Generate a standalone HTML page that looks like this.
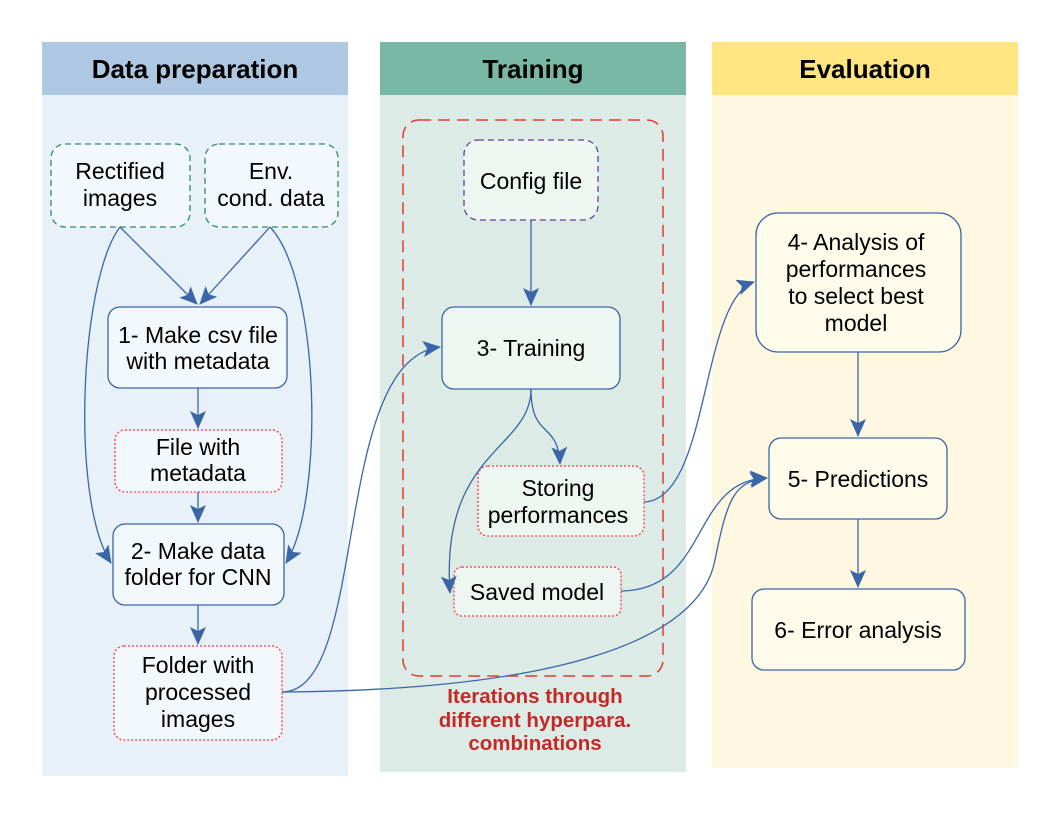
<!DOCTYPE html>
<html><head><meta charset="utf-8"><style>
body{margin:0;background:#fff;}
svg text{font-family:"Liberation Sans",sans-serif;}
</style></head><body>
<svg width="1056" height="816" viewBox="0 0 1056 816" xmlns="http://www.w3.org/2000/svg">
<defs>
<marker id="a" markerWidth="18" markerHeight="16" refX="17" refY="8" orient="auto" markerUnits="userSpaceOnUse" viewBox="0 0 18 16">
<path d="M0,0 L18,8 L0,16 L4,8 z" fill="#3a66a8"/></marker>
</defs>
<rect x="42" y="42" width="306" height="734" fill="#e8f0f8"/>
<rect x="42" y="42" width="306" height="53" fill="#aec8e4"/>
<text x="195" y="78" font-size="26" font-weight="bold" text-anchor="middle">Data preparation</text>
<rect x="380" y="42" width="306" height="730" fill="#dcebe5"/>
<rect x="380" y="42" width="306" height="53" fill="#7ab8a6"/>
<text x="533" y="78" font-size="26" font-weight="bold" text-anchor="middle">Training</text>
<rect x="712" y="42" width="306" height="726" fill="#fff8e1"/>
<rect x="712" y="42" width="306" height="53" fill="#ffe57f"/>
<text x="865" y="78" font-size="26" font-weight="bold" text-anchor="middle">Evaluation</text>

<rect x="403" y="120" width="260" height="556" rx="16" fill="none" stroke="#e53935" stroke-width="1.5" stroke-dasharray="12,7"/>
<text font-size="20.5" font-weight="bold" fill="#c62828" text-anchor="middle"><tspan x="535" y="703">Iterations through</tspan><tspan x="535" y="727">different hyperpara.</tspan><tspan x="535" y="750">combinations</tspan></text>

<g font-size="23" text-anchor="middle">
<rect x="51" y="144" width="139" height="83" rx="14" fill="#f3f8fc" stroke="#2e8b6e" stroke-width="1.3" stroke-dasharray="6,4"/>
<text x="120" y="179">Rectified</text><text x="120" y="206">images</text>
<rect x="205" y="144" width="133" height="83" rx="14" fill="#f3f8fc" stroke="#2e8b6e" stroke-width="1.3" stroke-dasharray="6,4"/>
<text x="271" y="179">Env.</text><text x="271" y="206">cond. data</text>
<rect x="108" y="307" width="179" height="81" rx="12" fill="#f3f8fc" stroke="#3a66a8" stroke-width="1.3"/>
<text x="198" y="343">1- Make csv file</text><text x="198" y="369">with metadata</text>
<rect x="115" y="430" width="167" height="62" rx="10" fill="#f3f8fc" stroke="#f03c3c" stroke-width="1.3" stroke-dasharray="2,2"/>
<text x="198" y="455">File with</text><text x="198" y="481">metadata</text>
<rect x="113" y="524" width="171" height="81" rx="12" fill="#f3f8fc" stroke="#3a66a8" stroke-width="1.3"/>
<text x="198" y="559">2- Make data</text><text x="198" y="585">folder for CNN</text>
<rect x="114" y="646" width="168" height="94" rx="10" fill="#f3f8fc" stroke="#f03c3c" stroke-width="1.3" stroke-dasharray="2,2"/>
<text x="198" y="673">Folder with</text><text x="198" y="700">processed</text><text x="198" y="727">images</text>

<rect x="464" y="140" width="134" height="80" rx="14" fill="#eef6f2" stroke="#6a3d9a" stroke-width="1.3" stroke-dasharray="6,4"/>
<text x="531" y="189">Config file</text>
<rect x="442" y="307" width="178" height="82" rx="12" fill="#eef6f2" stroke="#3a66a8" stroke-width="1.3"/>
<text x="531" y="356">3- Training</text>
<rect x="478" y="466" width="166" height="70" rx="10" fill="#eef6f2" stroke="#f03c3c" stroke-width="1.3" stroke-dasharray="2,2"/>
<text x="558" y="496">Storing</text><text x="558" y="523">performances</text>
<rect x="454" y="567" width="167" height="49" rx="8" fill="#eef6f2" stroke="#f03c3c" stroke-width="1.3" stroke-dasharray="2,2"/>
<text x="537" y="600">Saved model</text>

<rect x="756" y="213" width="205" height="139" rx="22" fill="#fffbea" stroke="#3a66a8" stroke-width="1.3"/>
<text x="856" y="250">4- Analysis of</text><text x="856" y="277">performances</text><text x="856" y="304">to select best</text><text x="856" y="331">model</text>
<rect x="769" y="438" width="178" height="81" rx="12" fill="#fffbea" stroke="#3a66a8" stroke-width="1.3"/>
<text x="858" y="487">5- Predictions</text>
<rect x="752" y="589" width="213" height="81" rx="12" fill="#fffbea" stroke="#3a66a8" stroke-width="1.3"/>
<text x="858" y="638">6- Error analysis</text>
</g>

<g fill="none" stroke="#3a66a8" stroke-width="1.3" marker-end="url(#a)">
<path d="M120,227 L197,304"/>
<path d="M270,227 L200,304"/>
<path d="M120,227 C80,280 70,500 111,563"/>
<path d="M270,227 C320,280 325,500 286,563"/>
<path d="M198,388 L198,428"/>
<path d="M198,492 L198,522"/>
<path d="M198,605 L198,644"/>
<path d="M282,692 C370,692 330,360 440,347"/>
<path d="M282,692 C560,690 700,640 715,560 C728,495 735,482 767,478"/>
<path d="M531,220 L531,305"/>
<path d="M531,389 C531,440 558,420 560,464"/>
<path d="M531,389 C531,450 440,450 450,593"/>
<path d="M644,502 C710,500 700,300 754,282"/>
<path d="M621,591 C710,590 690,480 767,478"/>
<path d="M858,352 L858,436"/>
<path d="M858,519 L858,587"/>
</g>
</svg>
</body></html>
